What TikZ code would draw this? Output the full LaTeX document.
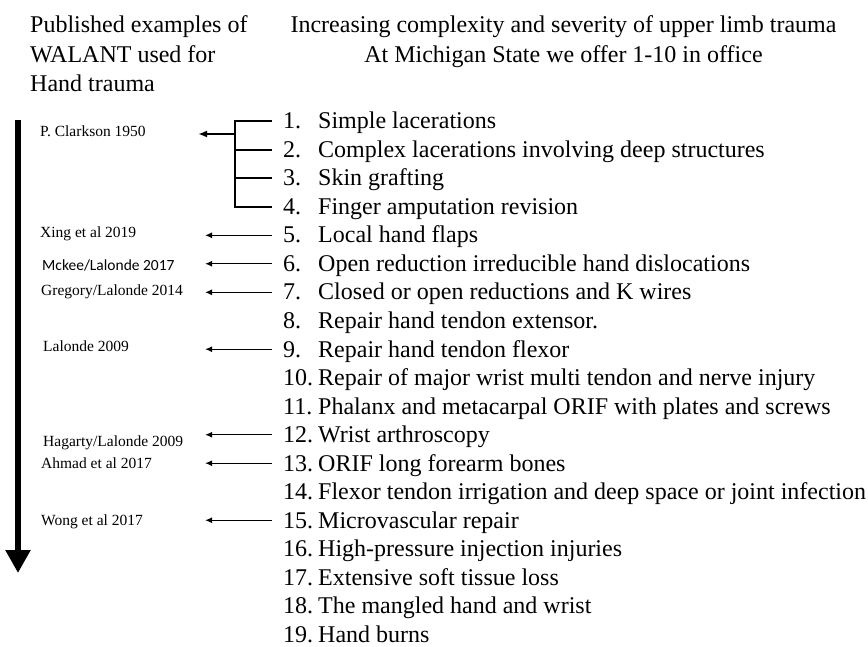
\documentclass[tikz,border=0pt]{standalone}
\usepackage{fontspec}
\setmainfont{Liberation Serif}
\newfontfamily\calibri{Carlito}
\usetikzlibrary{arrows.meta,positioning,calc}
\tikzset{>=Latex, line/.style={line width=1.3pt}, brk/.style={line width=2pt},
head/.style={font=\fontsize{24}{29.5}\selectfont, inner sep=0pt},
item/.style={font=\fontsize{24}{29}\selectfont, anchor=base west, inner sep=0pt},
num/.style={item, inner xsep=11pt},
ref/.style={font=\fontsize{15.5}{18}\selectfont, anchor=base west, inner sep=0pt},
refarrow/.style={line, -{Latex[length=7pt,width=6pt]}}}

\begin{document}
\begin{tikzpicture}[x=1pt,y=-1pt]
\useasboundingbox (0,0) rectangle (868,647);

\node[head, anchor=north west, align=left] (pub) at (30,15.5) {Published examples of\\WALANT used for\\Hand trauma};
\node[head, anchor=north, align=center] (title) at (563.5,15.5) {Increasing complexity and severity of upper limb trauma\\At Michigan State we offer 1-10 in office};

% procedures, one per line
\foreach \txt [count=\k] in {Simple lacerations, Complex lacerations involving deep structures,
  Skin grafting, Finger amputation revision, Local hand flaps,
  Open reduction irreducible hand dislocations, Closed or open reductions and K wires,
  Repair hand tendon extensor., Repair hand tendon flexor,
  Repair of major wrist multi tendon and nerve injury,
  Phalanx and metacarpal ORIF with plates and screws, Wrist arthroscopy,
  ORIF long forearm bones, Flexor tendon irrigation and deep space or joint infection,
  Microvascular repair, High-pressure injection injuries, Extensive soft tissue loss,
  The mangled hand and wrist, Hand burns} {
  \node[num] (n\k) at (272,{129+(\k-1)*28.5}) {\k.};
  \node[item] (t\k) at (318,{129+(\k-1)*28.5}) {\txt};
}

% published examples
\node[ref] (clark) at (40,137) {P. Clarkson 1950};
\node[ref] (xing) at (40,238) {Xing et al 2019};
\node[ref, font=\calibri\fontsize{15.5}{18}\selectfont] (mckee) at (42,271) {Mckee/Lalonde 2017};
\node[ref] (greg) at (41,296) {Gregory/Lalonde 2014};
\node[ref] (lal) at (43,352) {Lalonde 2009};
\node[ref] (hag) at (43,446) {Hagarty/Lalonde 2009};
\node[ref] (ahmad) at (41,468) {Ahmad et al 2017};
\node[ref] (wong) at (41,525) {Wong et al 2017};

% bracket for 1-4
\coordinate (spine) at (235,0);
\coordinate (fork) at (235,134);
\coordinate (clarktip) at (198,134);
\draw[brk] (n1.west) -- (n1.west -| spine) -- (n4.west -| spine) -- (n4.west);
\draw[brk] (n2.west) -- (n2.west -| spine);
\draw[brk] (n3.west) -- (n3.west -| spine);
\draw[brk, -{Latex[length=9pt,width=7pt]}] (fork) -- (clarktip);

% single arrows
\coordinate (tipcol) at (205,0);
\foreach \k in {5,6,7,9,12,13,15} {
  \draw[refarrow] (n\k.west) -- (n\k.west -| tipcol);
}

% severity trend
\coordinate (trendtop) at (18,120);
\coordinate (trendend) at (18,573);
\draw[line width=5.5pt, -{Triangle[length=23pt,width=24pt]}] (trendtop) -- (trendend);
\end{tikzpicture}
\end{document}
